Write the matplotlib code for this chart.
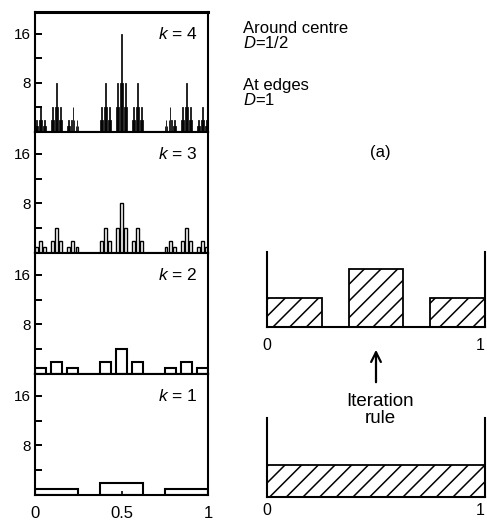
import numpy as np
import matplotlib
matplotlib.use("Agg")
import matplotlib.pyplot as plt

plt.rcParams['font.family'] = ['Liberation Sans', 'DejaVu Sans']
plt.rcParams['mathtext.fontset'] = 'custom'
plt.rcParams['mathtext.rm'] = 'Liberation Sans'
plt.rcParams['mathtext.it'] = 'Liberation Sans:italic'
plt.rcParams['hatch.linewidth'] = 1.1

# ---- data ----
# iteration rule: three pieces of width 1/4 starting at these points
piece_starts = [0.0, 0.375, 0.75]
piece_width = 0.25
rule_heights = [1, 2, 1]        # around centre D=1/2, at edges D=1
initial_heights = [1]

k1 = [1, 2, 1]
k2 = [1, 2, 1, 2, 4, 2, 1, 2, 1]
k3 = [1, 2, 1, 2, 4, 2, 1, 2, 1,
      2, 4, 2, 4, 8, 4, 2, 4, 2,
      1, 2, 1, 2, 4, 2, 1, 2, 1]
k4 = [1, 2, 1, 2, 4, 2, 1, 2, 1,
      2, 4, 2, 4, 8, 4, 2, 4, 2,
      1, 2, 1, 2, 4, 2, 1, 2, 1,
      2, 4, 2, 4, 8, 4, 2, 4, 2,
      4, 8, 4, 8, 16, 8, 4, 8, 4,
      2, 4, 2, 4, 8, 4, 2, 4, 2,
      1, 2, 1, 2, 4, 2, 1, 2, 1,
      2, 4, 2, 4, 8, 4, 2, 4, 2,
      1, 2, 1, 2, 4, 2, 1, 2, 1]
levels = [4, 3, 2, 1]
level_heights = {1: k1, 2: k2, 3: k3, 4: k4}
yticks_major = [8, 16]
yticks_minor = [4, 12]
xtick_vals = [0, 0.5, 1]
xtick_labels = ['0', '0.5', '1']


def interval_edges(k):
    edges = np.array([0.0])
    w = 1.0
    for _ in range(k):
        edges = (edges[:, None] + w * np.array(piece_starts)[None, :]).ravel()
        w *= piece_width
    return edges, w


W, H = 487, 520
fig = plt.figure(figsize=(W / 100, H / 100), dpi=100)


def px_axes(x0, y_top, x1, y_bot):
    return fig.add_axes([x0 / W, 1 - y_bot / H, (x1 - x0) / W, (y_bot - y_top) / H])


# ---- left stack ----
tops = [12, 132, 253, 374]
bots = [132, 253, 374, 495]
bar_lw = {1: 1.5, 2: 1.5, 3: 1.0, 4: 0.6}
for i, k in enumerate(levels):
    ax = px_axes(35, tops[i], 208, bots[i])
    edges, w = interval_edges(k)
    ax.bar(edges, level_heights[k], width=w, align='edge', fill=False,
           edgecolor='black', linewidth=bar_lw[k])
    ax.set_xlim(0, 1)
    ax.set_ylim(0, 19.5)
    ax.set_yticks(yticks_major)
    ax.set_yticks(yticks_minor, minor=True)
    ax.tick_params(axis='y', which='both', direction='in', length=5, width=1.4,
                   labelsize=11, pad=3)
    for s in ax.spines.values():
        s.set_linewidth(1.5)
    if i == 0:
        ax.spines['top'].set_linewidth(2.2)
    ax.text(0.94, 16, '$k$ = %d' % k, transform=ax.get_yaxis_transform(),
            ha='right', va='center', fontsize=12.5)
    if k == 1:
        ax.set_xticks(xtick_vals)
        ax.set_xticklabels(xtick_labels)
        ax.tick_params(axis='x', direction='in', length=3, width=1.2,
                       labelsize=12, pad=8)
    else:
        ax.set_xticks([])

# ---- right: iteration rule diagrams ----
axr1 = px_axes(267, 252, 485, 327)
axr1.bar(piece_starts, rule_heights, width=piece_width, align='edge',
         facecolor='white', edgecolor='black', hatch='//', linewidth=1.3)
axr1.set_xlim(0, 1)
axr1.set_ylim(0, 75 / 29)
axr1.spines['top'].set_visible(False)
axr1.set_yticks([])
axr1.set_xticks([0, 1])
axr1.set_xticklabels(['0', '1'])
axr1.tick_params(axis='x', length=0, labelsize=11.5, pad=8)
axr1.get_xticklabels()[1].set_horizontalalignment('right')
for s in axr1.spines.values():
    s.set_linewidth(1.5)

axr2 = px_axes(267, 418, 485, 497)
axr2.bar([0], initial_heights, width=1, align='edge',
         facecolor='white', edgecolor='black', hatch='//', linewidth=1.3)
axr2.set_xlim(0, 1)
axr2.set_ylim(0, 79 / 32)
axr2.spines['top'].set_visible(False)
axr2.set_yticks([])
axr2.set_xticks([0, 1])
axr2.set_xticklabels(['0', '1'])
axr2.tick_params(axis='x', length=0, labelsize=11.5, pad=4)
axr2.get_xticklabels()[1].set_horizontalalignment('right')
for s in axr2.spines.values():
    s.set_linewidth(1.5)

# arrow + label
axr1.annotate('', xy=(0.5, -20 / 29), xytext=(0.5, -58 / 29),
              xycoords='data', textcoords='data', annotation_clip=False,
              arrowprops=dict(arrowstyle='->,head_length=0.7,head_width=0.35',
                              color='black', lw=1.6))
fig.text(380 / W, 1 - 393 / H, 'Iteration\nrule', ha='center', va='top',
         fontsize=13.5, linespacing=1.0)

# legend-ish text
fig.text(243 / W, 1 - 21 / H, 'Around centre\n$D$=1/2', ha='left', va='top',
         fontsize=12, linespacing=0.9)
fig.text(243 / W, 1 - 78 / H, 'At edges\n$D$=1', ha='left', va='top',
         fontsize=12, linespacing=0.9)
fig.text(380 / W, 1 - 152 / H, '(a)', ha='center', va='center', fontsize=12)

fig.savefig('out.png', dpi=100)
